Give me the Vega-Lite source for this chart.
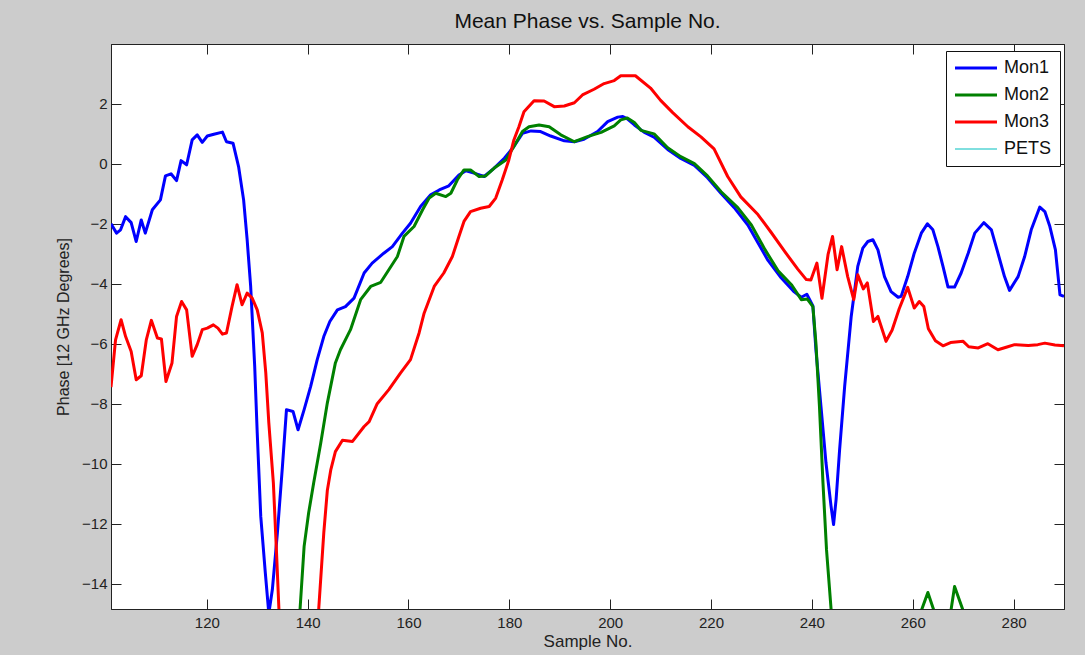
{
  "$schema": "https://vega.github.io/schema/vega-lite/v6.json",
  "autosize": {"type": "none"},
  "width": 953,
  "height": 565,
  "padding": {"left": 111, "top": 44, "right": 21, "bottom": 46},
  "background": "#cccccc",
  "config": {
    "font": "Liberation Sans",
    "view": {"fill": "white", "stroke": "#222", "strokeWidth": 1},
    "axis": {"grid": false, "domainColor": "#222", "tickColor": "#222", "labelColor": "#222", "titleColor": "#222", "labelFont": "Liberation Sans", "titleFont": "Liberation Sans", "titleFontWeight": "normal", "labelFontSize": 15, "titleFontSize": 16, "tickSize": -10, "domainWidth": 1, "tickWidth": 1},
    "title": {"font": "Liberation Sans", "fontSize": 21, "fontWeight": "normal", "color": "#111", "offset": 12}
  },
  "title": {"text": "Mean Phase vs. Sample No.", "anchor": "middle"},
  "datasets": {
    "d": [
      {"s":"Mon1","x":101.0,"y":-2.0},{"s":"Mon1","x":102.1,"y":-2.31},{"s":"Mon1","x":102.9,"y":-2.2},{"s":"Mon1","x":103.9,"y":-1.76},{"s":"Mon1","x":105.0,"y":-1.96},{"s":"Mon1","x":106.0,"y":-2.59},{"s":"Mon1","x":107.0,"y":-1.87},{"s":"Mon1","x":107.8,"y":-2.31},{"s":"Mon1","x":109.2,"y":-1.53},{"s":"Mon1","x":110.8,"y":-1.2},{"s":"Mon1","x":111.8,"y":-0.4},{"s":"Mon1","x":112.9,"y":-0.33},{"s":"Mon1","x":114.0,"y":-0.56},{"s":"Mon1","x":114.9,"y":0.11},{"s":"Mon1","x":116.0,"y":-0.03},{"s":"Mon1","x":117.1,"y":0.8},{"s":"Mon1","x":118.1,"y":0.97},{"s":"Mon1","x":119.1,"y":0.72},{"s":"Mon1","x":120.1,"y":0.93},{"s":"Mon1","x":121.4,"y":0.99},{"s":"Mon1","x":123.1,"y":1.06},{"s":"Mon1","x":123.9,"y":0.74},{"s":"Mon1","x":125.2,"y":0.69},{"s":"Mon1","x":126.3,"y":-0.09},{"s":"Mon1","x":127.3,"y":-1.2},{"s":"Mon1","x":128.0,"y":-2.53},{"s":"Mon1","x":128.7,"y":-4.09},{"s":"Mon1","x":129.5,"y":-6.76},{"s":"Mon1","x":130.0,"y":-8.98},{"s":"Mon1","x":130.7,"y":-11.76},{"s":"Mon1","x":131.6,"y":-13.64},{"s":"Mon1","x":132.3,"y":-15.0},{"s":"Mon1","x":133.0,"y":-14.2},{"s":"Mon1","x":134.0,"y":-12.31},{"s":"Mon1","x":135.0,"y":-10.09},{"s":"Mon1","x":135.8,"y":-8.2},{"s":"Mon1","x":137.1,"y":-8.26},{"s":"Mon1","x":138.1,"y":-8.87},{"s":"Mon1","x":139.3,"y":-8.2},{"s":"Mon1","x":140.6,"y":-7.42},{"s":"Mon1","x":141.9,"y":-6.53},{"s":"Mon1","x":143.2,"y":-5.76},{"s":"Mon1","x":144.4,"y":-5.26},{"s":"Mon1","x":145.9,"y":-4.87},{"s":"Mon1","x":147.5,"y":-4.76},{"s":"Mon1","x":149.2,"y":-4.48},{"s":"Mon1","x":151.2,"y":-3.64},{"s":"Mon1","x":152.8,"y":-3.31},{"s":"Mon1","x":155.1,"y":-2.98},{"s":"Mon1","x":156.8,"y":-2.76},{"s":"Mon1","x":158.8,"y":-2.31},{"s":"Mon1","x":160.4,"y":-1.98},{"s":"Mon1","x":162.4,"y":-1.42},{"s":"Mon1","x":164.4,"y":-1.03},{"s":"Mon1","x":166.1,"y":-0.87},{"s":"Mon1","x":168.0,"y":-0.73},{"s":"Mon1","x":170.0,"y":-0.37},{"s":"Mon1","x":171.4,"y":-0.23},{"s":"Mon1","x":173.0,"y":-0.31},{"s":"Mon1","x":175.0,"y":-0.42},{"s":"Mon1","x":177.0,"y":-0.14},{"s":"Mon1","x":179.0,"y":0.19},{"s":"Mon1","x":180.9,"y":0.58},{"s":"Mon1","x":182.6,"y":1.02},{"s":"Mon1","x":184.3,"y":1.1},{"s":"Mon1","x":186.2,"y":1.08},{"s":"Mon1","x":188.2,"y":0.93},{"s":"Mon1","x":190.9,"y":0.77},{"s":"Mon1","x":192.9,"y":0.74},{"s":"Mon1","x":194.8,"y":0.82},{"s":"Mon1","x":197.5,"y":1.08},{"s":"Mon1","x":199.5,"y":1.41},{"s":"Mon1","x":201.5,"y":1.56},{"s":"Mon1","x":202.5,"y":1.58},{"s":"Mon1","x":203.4,"y":1.5},{"s":"Mon1","x":204.8,"y":1.3},{"s":"Mon1","x":206.7,"y":1.06},{"s":"Mon1","x":208.7,"y":0.89},{"s":"Mon1","x":211.4,"y":0.48},{"s":"Mon1","x":214.0,"y":0.18},{"s":"Mon1","x":216.7,"y":-0.05},{"s":"Mon1","x":219.3,"y":-0.46},{"s":"Mon1","x":222.0,"y":-0.99},{"s":"Mon1","x":224.6,"y":-1.46},{"s":"Mon1","x":227.3,"y":-2.04},{"s":"Mon1","x":229.3,"y":-2.63},{"s":"Mon1","x":231.3,"y":-3.22},{"s":"Mon1","x":233.9,"y":-3.8},{"s":"Mon1","x":236.5,"y":-4.27},{"s":"Mon1","x":237.9,"y":-4.45},{"s":"Mon1","x":239.0,"y":-4.35},{"s":"Mon1","x":240.2,"y":-4.74},{"s":"Mon1","x":240.8,"y":-6.2},{"s":"Mon1","x":241.8,"y":-8.09},{"s":"Mon1","x":242.8,"y":-9.98},{"s":"Mon1","x":243.8,"y":-11.42},{"s":"Mon1","x":244.3,"y":-12.03},{"s":"Mon1","x":244.8,"y":-11.2},{"s":"Mon1","x":245.5,"y":-9.53},{"s":"Mon1","x":246.5,"y":-7.42},{"s":"Mon1","x":247.8,"y":-5.09},{"s":"Mon1","x":249.1,"y":-3.42},{"s":"Mon1","x":250.1,"y":-2.81},{"s":"Mon1","x":251.1,"y":-2.59},{"s":"Mon1","x":252.1,"y":-2.53},{"s":"Mon1","x":253.1,"y":-2.87},{"s":"Mon1","x":254.4,"y":-3.76},{"s":"Mon1","x":255.7,"y":-4.26},{"s":"Mon1","x":257.1,"y":-4.45},{"s":"Mon1","x":257.7,"y":-4.42},{"s":"Mon1","x":259.0,"y":-3.76},{"s":"Mon1","x":260.3,"y":-2.98},{"s":"Mon1","x":261.7,"y":-2.31},{"s":"Mon1","x":262.9,"y":-2.0},{"s":"Mon1","x":264.0,"y":-2.2},{"s":"Mon1","x":265.0,"y":-2.76},{"s":"Mon1","x":266.0,"y":-3.42},{"s":"Mon1","x":267.0,"y":-4.11},{"s":"Mon1","x":268.3,"y":-4.11},{"s":"Mon1","x":269.6,"y":-3.64},{"s":"Mon1","x":271.0,"y":-2.98},{"s":"Mon1","x":272.3,"y":-2.31},{"s":"Mon1","x":274.1,"y":-1.96},{"s":"Mon1","x":275.6,"y":-2.2},{"s":"Mon1","x":276.9,"y":-2.98},{"s":"Mon1","x":278.2,"y":-3.76},{"s":"Mon1","x":279.2,"y":-4.22},{"s":"Mon1","x":280.9,"y":-3.76},{"s":"Mon1","x":282.2,"y":-3.09},{"s":"Mon1","x":283.5,"y":-2.2},{"s":"Mon1","x":285.2,"y":-1.44},{"s":"Mon1","x":286.2,"y":-1.59},{"s":"Mon1","x":287.2,"y":-2.09},{"s":"Mon1","x":288.3,"y":-2.87},{"s":"Mon1","x":289.2,"y":-4.37},{"s":"Mon1","x":290.0,"y":-4.42},
      {"s":"Mon2","x":138.0,"y":-16.1},{"s":"Mon2","x":138.5,"y":-14.84},{"s":"Mon2","x":139.3,"y":-12.76},{"s":"Mon2","x":140.2,"y":-11.64},{"s":"Mon2","x":141.2,"y":-10.64},{"s":"Mon2","x":142.6,"y":-9.31},{"s":"Mon2","x":143.9,"y":-7.98},{"s":"Mon2","x":145.5,"y":-6.64},{"s":"Mon2","x":146.5,"y":-6.2},{"s":"Mon2","x":148.5,"y":-5.53},{"s":"Mon2","x":150.5,"y":-4.53},{"s":"Mon2","x":152.5,"y":-4.09},{"s":"Mon2","x":154.5,"y":-3.95},{"s":"Mon2","x":156.1,"y":-3.53},{"s":"Mon2","x":157.8,"y":-3.09},{"s":"Mon2","x":159.1,"y":-2.42},{"s":"Mon2","x":161.1,"y":-2.09},{"s":"Mon2","x":162.8,"y":-1.53},{"s":"Mon2","x":164.1,"y":-1.14},{"s":"Mon2","x":165.4,"y":-0.98},{"s":"Mon2","x":167.4,"y":-1.09},{"s":"Mon2","x":168.4,"y":-0.98},{"s":"Mon2","x":169.7,"y":-0.53},{"s":"Mon2","x":171.0,"y":-0.2},{"s":"Mon2","x":172.3,"y":-0.2},{"s":"Mon2","x":174.0,"y":-0.42},{"s":"Mon2","x":175.3,"y":-0.4},{"s":"Mon2","x":177.0,"y":-0.14},{"s":"Mon2","x":179.3,"y":0.13},{"s":"Mon2","x":180.9,"y":0.58},{"s":"Mon2","x":182.6,"y":1.08},{"s":"Mon2","x":183.9,"y":1.24},{"s":"Mon2","x":185.9,"y":1.3},{"s":"Mon2","x":187.9,"y":1.24},{"s":"Mon2","x":190.2,"y":0.97},{"s":"Mon2","x":192.9,"y":0.74},{"s":"Mon2","x":195.5,"y":0.91},{"s":"Mon2","x":198.2,"y":1.05},{"s":"Mon2","x":200.8,"y":1.27},{"s":"Mon2","x":202.1,"y":1.47},{"s":"Mon2","x":203.4,"y":1.53},{"s":"Mon2","x":204.8,"y":1.38},{"s":"Mon2","x":206.1,"y":1.12},{"s":"Mon2","x":208.7,"y":1.0},{"s":"Mon2","x":211.4,"y":0.54},{"s":"Mon2","x":214.0,"y":0.24},{"s":"Mon2","x":216.7,"y":0.01},{"s":"Mon2","x":219.3,"y":-0.4},{"s":"Mon2","x":222.0,"y":-0.93},{"s":"Mon2","x":225.3,"y":-1.46},{"s":"Mon2","x":228.0,"y":-2.04},{"s":"Mon2","x":230.7,"y":-2.86},{"s":"Mon2","x":233.3,"y":-3.57},{"s":"Mon2","x":236.0,"y":-4.04},{"s":"Mon2","x":237.9,"y":-4.53},{"s":"Mon2","x":239.1,"y":-4.51},{"s":"Mon2","x":240.2,"y":-4.76},{"s":"Mon2","x":240.8,"y":-5.98},{"s":"Mon2","x":241.5,"y":-8.09},{"s":"Mon2","x":242.2,"y":-10.64},{"s":"Mon2","x":242.9,"y":-12.87},{"s":"Mon2","x":243.8,"y":-14.84},{"s":"Mon2","x":244.4,"y":-16.2},{"s":"Mon2","x":252.0,"y":-22.0},{"s":"Mon2","x":260.0,"y":-18.0},{"s":"Mon2","x":261.5,"y":-15.0},{"s":"Mon2","x":263.0,"y":-14.3},{"s":"Mon2","x":264.6,"y":-15.1},{"s":"Mon2","x":266.0,"y":-16.0},{"s":"Mon2","x":267.4,"y":-15.1},{"s":"Mon2","x":268.3,"y":-14.1},{"s":"Mon2","x":270.2,"y":-15.0},{"s":"Mon2","x":271.5,"y":-17.0},{"s":"Mon2","x":290.0,"y":-20.0},
      {"s":"Mon3","x":101.0,"y":-7.45},{"s":"Mon3","x":101.9,"y":-5.87},{"s":"Mon3","x":103.0,"y":-5.2},{"s":"Mon3","x":103.9,"y":-5.76},{"s":"Mon3","x":105.0,"y":-6.26},{"s":"Mon3","x":106.0,"y":-7.2},{"s":"Mon3","x":107.0,"y":-7.07},{"s":"Mon3","x":108.0,"y":-5.87},{"s":"Mon3","x":109.0,"y":-5.22},{"s":"Mon3","x":110.2,"y":-5.81},{"s":"Mon3","x":111.0,"y":-5.84},{"s":"Mon3","x":111.9,"y":-7.26},{"s":"Mon3","x":113.1,"y":-6.64},{"s":"Mon3","x":114.0,"y":-5.09},{"s":"Mon3","x":115.0,"y":-4.59},{"s":"Mon3","x":116.0,"y":-4.87},{"s":"Mon3","x":117.1,"y":-6.42},{"s":"Mon3","x":118.1,"y":-6.03},{"s":"Mon3","x":119.1,"y":-5.53},{"s":"Mon3","x":120.1,"y":-5.48},{"s":"Mon3","x":121.3,"y":-5.37},{"s":"Mon3","x":122.2,"y":-5.48},{"s":"Mon3","x":123.1,"y":-5.68},{"s":"Mon3","x":123.9,"y":-5.64},{"s":"Mon3","x":125.0,"y":-4.76},{"s":"Mon3","x":126.0,"y":-4.03},{"s":"Mon3","x":127.0,"y":-4.7},{"s":"Mon3","x":128.0,"y":-4.31},{"s":"Mon3","x":129.0,"y":-4.48},{"s":"Mon3","x":130.0,"y":-4.87},{"s":"Mon3","x":131.0,"y":-5.64},{"s":"Mon3","x":131.7,"y":-6.98},{"s":"Mon3","x":132.3,"y":-8.64},{"s":"Mon3","x":133.2,"y":-10.64},{"s":"Mon3","x":133.8,"y":-12.87},{"s":"Mon3","x":134.3,"y":-14.84},{"s":"Mon3","x":134.6,"y":-16.0},{"s":"Mon3","x":138.0,"y":-25.0},{"s":"Mon3","x":141.7,"y":-16.1},{"s":"Mon3","x":142.2,"y":-14.84},{"s":"Mon3","x":143.2,"y":-12.31},{"s":"Mon3","x":143.9,"y":-10.9},{"s":"Mon3","x":144.6,"y":-10.2},{"s":"Mon3","x":145.5,"y":-9.6},{"s":"Mon3","x":146.9,"y":-9.22},{"s":"Mon3","x":148.9,"y":-9.26},{"s":"Mon3","x":151.2,"y":-8.76},{"s":"Mon3","x":152.2,"y":-8.6},{"s":"Mon3","x":153.8,"y":-8.0},{"s":"Mon3","x":156.1,"y":-7.53},{"s":"Mon3","x":158.4,"y":-6.98},{"s":"Mon3","x":160.4,"y":-6.53},{"s":"Mon3","x":162.1,"y":-5.64},{"s":"Mon3","x":163.1,"y":-4.98},{"s":"Mon3","x":165.1,"y":-4.09},{"s":"Mon3","x":167.0,"y":-3.64},{"s":"Mon3","x":168.7,"y":-3.09},{"s":"Mon3","x":170.0,"y":-2.42},{"s":"Mon3","x":171.0,"y":-1.92},{"s":"Mon3","x":172.3,"y":-1.59},{"s":"Mon3","x":174.3,"y":-1.48},{"s":"Mon3","x":176.0,"y":-1.42},{"s":"Mon3","x":177.3,"y":-1.14},{"s":"Mon3","x":178.6,"y":-0.53},{"s":"Mon3","x":179.9,"y":0.13},{"s":"Mon3","x":180.9,"y":0.8},{"s":"Mon3","x":181.9,"y":1.24},{"s":"Mon3","x":182.9,"y":1.74},{"s":"Mon3","x":184.9,"y":2.11},{"s":"Mon3","x":186.9,"y":2.1},{"s":"Mon3","x":188.9,"y":1.91},{"s":"Mon3","x":190.9,"y":1.93},{"s":"Mon3","x":192.9,"y":2.04},{"s":"Mon3","x":194.5,"y":2.3},{"s":"Mon3","x":196.8,"y":2.49},{"s":"Mon3","x":198.8,"y":2.68},{"s":"Mon3","x":200.8,"y":2.78},{"s":"Mon3","x":202.1,"y":2.94},{"s":"Mon3","x":205.0,"y":2.94},{"s":"Mon3","x":208.0,"y":2.53},{"s":"Mon3","x":210.0,"y":2.12},{"s":"Mon3","x":212.4,"y":1.71},{"s":"Mon3","x":215.4,"y":1.24},{"s":"Mon3","x":218.0,"y":0.9},{"s":"Mon3","x":220.6,"y":0.5},{"s":"Mon3","x":223.3,"y":-0.42},{"s":"Mon3","x":225.9,"y":-1.1},{"s":"Mon3","x":229.3,"y":-1.69},{"s":"Mon3","x":231.9,"y":-2.28},{"s":"Mon3","x":234.6,"y":-2.92},{"s":"Mon3","x":237.2,"y":-3.51},{"s":"Mon3","x":238.9,"y":-3.86},{"s":"Mon3","x":239.8,"y":-3.87},{"s":"Mon3","x":241.0,"y":-3.31},{"s":"Mon3","x":242.0,"y":-4.48},{"s":"Mon3","x":243.2,"y":-3.03},{"s":"Mon3","x":244.1,"y":-2.42},{"s":"Mon3","x":245.0,"y":-3.53},{"s":"Mon3","x":245.9,"y":-2.76},{"s":"Mon3","x":247.1,"y":-3.76},{"s":"Mon3","x":248.3,"y":-4.53},{"s":"Mon3","x":249.1,"y":-3.7},{"s":"Mon3","x":250.2,"y":-4.17},{"s":"Mon3","x":251.0,"y":-3.97},{"s":"Mon3","x":252.2,"y":-5.26},{"s":"Mon3","x":253.1,"y":-5.09},{"s":"Mon3","x":254.7,"y":-5.92},{"s":"Mon3","x":255.9,"y":-5.55},{"s":"Mon3","x":257.3,"y":-4.84},{"s":"Mon3","x":259.0,"y":-4.12},{"s":"Mon3","x":260.3,"y":-4.81},{"s":"Mon3","x":261.3,"y":-4.59},{"s":"Mon3","x":262.2,"y":-4.76},{"s":"Mon3","x":263.1,"y":-5.5},{"s":"Mon3","x":264.5,"y":-5.9},{"s":"Mon3","x":266.0,"y":-6.07},{"s":"Mon3","x":267.5,"y":-5.96},{"s":"Mon3","x":270.0,"y":-5.92},{"s":"Mon3","x":271.1,"y":-6.1},{"s":"Mon3","x":273.0,"y":-6.14},{"s":"Mon3","x":274.9,"y":-6.0},{"s":"Mon3","x":276.9,"y":-6.2},{"s":"Mon3","x":278.7,"y":-6.11},{"s":"Mon3","x":280.2,"y":-6.03},{"s":"Mon3","x":282.9,"y":-6.06},{"s":"Mon3","x":284.8,"y":-6.03},{"s":"Mon3","x":286.2,"y":-5.98},{"s":"Mon3","x":288.2,"y":-6.04},{"s":"Mon3","x":290.0,"y":-6.07}
    ]
  },
  "data": {"name": "d"},
  "layer": [
    {
      "mark": {"type": "line", "clip": true, "strokeJoin": "round", "strokeCap": "butt", "strokeWidth": 3},
      "encoding": {
        "x": {"field": "x", "type": "quantitative", "scale": {"domain": [101, 290], "nice": false, "zero": false},
              "axis": {"orient": "bottom", "values": [120, 140, 160, 180, 200, 220, 240, 260, 280], "title": "Sample No.", "labelPadding": 16, "titlePadding": 3, "titleFontSize": 17}},
        "y": {"field": "y", "type": "quantitative", "scale": {"domain": [-14.85, 4], "nice": false, "zero": false},
              "axis": {"orient": "left", "values": [-14, -12, -10, -8, -6, -4, -2, 0, 2], "title": "Phase [12 GHz Degrees]", "labelPadding": 14, "titlePadding": 10}},
        "color": {"field": "s", "type": "nominal", "scale": {"domain": ["Mon1", "Mon2", "Mon3", "PETS"], "range": ["#0000ff", "#008000", "#ff0000", "#00bfbf"]},
                  "legend": {"orient": "none", "legendX": 835, "legendY": 7, "title": null, "strokeColor": "#111", "fillColor": "white", "padding": 8, "symbolType": "M-1,0H5", "symbolSize": 196, "symbolOffset": -1, "labelFontSize": 18, "labelFont": "Liberation Sans", "labelColor": "#111", "labelOffset": 33, "rowPadding": 9,
                             "encode": {"symbols": {"update": {"strokeWidth": {"signal": "datum.value === 'PETS' ? 1 : 3"}}}}}},
        "order": {"field": "x", "type": "quantitative"}
      }
    },
    {
      "mark": {"type": "point", "opacity": 0},
      "encoding": {
        "x": {"field": "x", "type": "quantitative", "axis": {"orient": "top", "values": [120, 140, 160, 180, 200, 220, 240, 260, 280], "labels": false, "title": null}},
        "y": {"field": "y", "type": "quantitative", "axis": {"orient": "right", "values": [-14, -12, -10, -8, -6, -4, -2, 0, 2], "labels": false, "title": null}}
      }
    }
  ],
  "resolve": {"axis": {"x": "independent", "y": "independent"}}
}
